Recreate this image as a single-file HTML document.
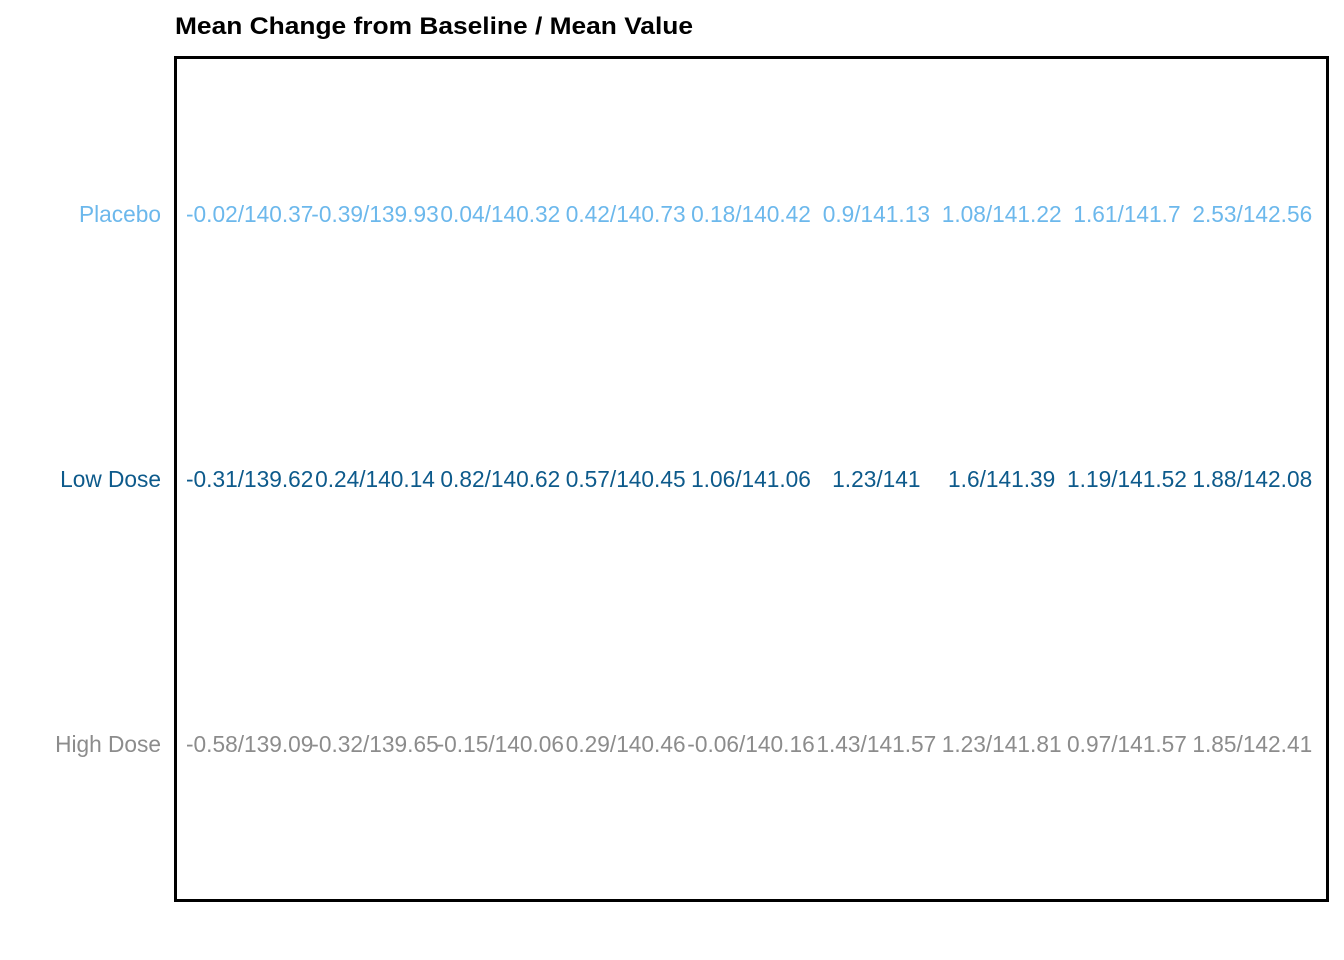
<!DOCTYPE html>
<html><head><meta charset="utf-8"><style>
html,body{margin:0;padding:0;background:#fff;}
svg{display:block;font-family:"Liberation Sans",Arial,sans-serif;}
</style></head><body>
<svg id="chart" width="1344" height="960" viewBox="0 0 1344 960">
<text x="175" y="34" font-size="24" font-weight="bold" fill="#000" textLength="518" lengthAdjust="spacingAndGlyphs">Mean Change from Baseline / Mean Value</text>
<rect x="175.5" y="57.5" width="1152" height="843" fill="none" stroke="#000" stroke-width="3"/>
<g id="marks"></g>
</svg>
<script>
const groups = ["Placebo", "Low Dose", "High Dose"];
const colors = ["#6cb8ec", "#0d5a8b", "#8c8c8c"];
const visits = [1, 2, 3, 4, 5, 6, 7, 8, 9];
const placeboChg = ["-0.02","-0.39","0.04","0.42","0.18","0.9","1.08","1.61","2.53"];
const placeboMean = ["140.37","139.93","140.32","140.73","140.42","141.13","141.22","141.7","142.56"];
const lowChg = ["-0.31","0.24","0.82","0.57","1.06","1.23","1.6","1.19","1.88"];
const lowMean = ["139.62","140.14","140.62","140.45","141.06","141","141.39","141.52","142.08"];
const highChg = ["-0.58","-0.32","-0.15","0.29","-0.06","1.43","1.23","0.97","1.85"];
const highMean = ["139.09","139.65","140.06","140.46","140.16","141.57","141.81","141.57","142.41"];

const chgs = [placeboChg, lowChg, highChg];
const means = [placeboMean, lowMean, highMean];
const px0 = 175, px1 = 1328;
function xScale(v){ return px0 + (v - 0.4) / 9.2 * (px1 - px0) - 0.5; }
function yScale(i){ return 214 + i * 265; }
const ns = "http://www.w3.org/2000/svg";
const g = document.getElementById("marks");
groups.forEach((name, i) => {
  const lab = document.createElementNS(ns, "text");
  lab.setAttribute("x", 161);
  lab.setAttribute("y", yScale(i));
  lab.setAttribute("text-anchor", "end");
  lab.setAttribute("dominant-baseline", "central");
  lab.setAttribute("font-size", "22.7");
  lab.setAttribute("fill", colors[i]);
  lab.textContent = name;
  
  
  g.appendChild(lab);
  visits.forEach((v, j) => {
    const t = document.createElementNS(ns, "text");
    t.setAttribute("x", xScale(v));
    t.setAttribute("y", yScale(i));
    t.setAttribute("text-anchor", "middle");
    t.setAttribute("dominant-baseline", "central");
    t.setAttribute("font-size", "22.7");
    t.setAttribute("fill", colors[i]);
    t.textContent = chgs[i][j] + "/" + means[i][j];
    
    
    g.appendChild(t);
  });
});
</script>
</body></html>
